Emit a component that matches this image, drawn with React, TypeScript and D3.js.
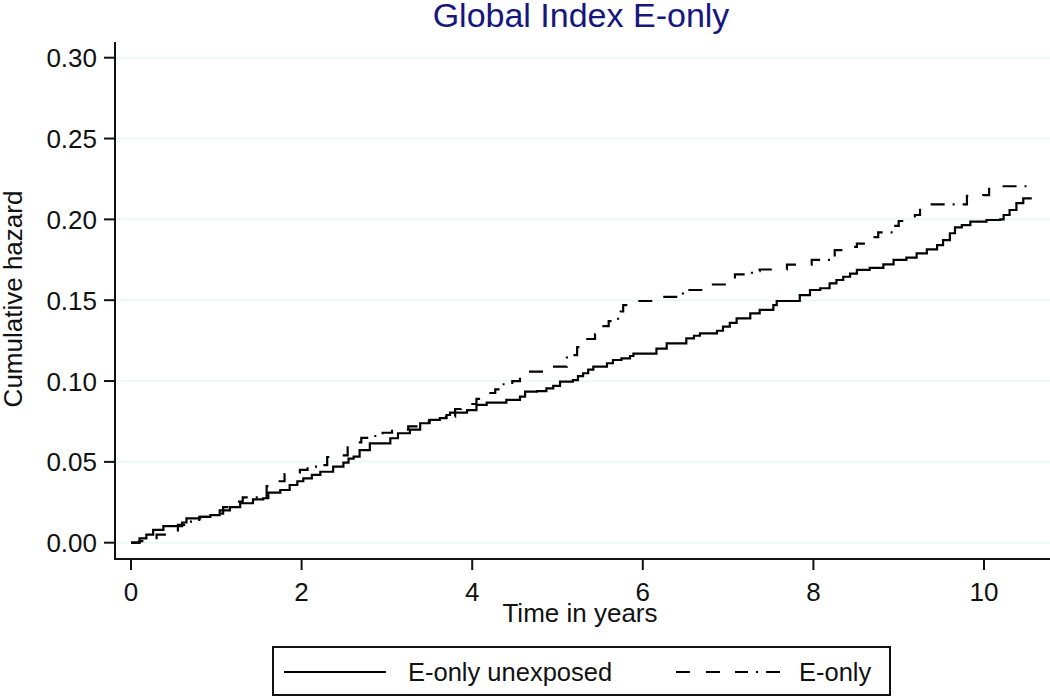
import React from "react";
import * as d3 from "d3";

const yTicks = [0, 0.05, 0.1, 0.15, 0.2, 0.25, 0.3];
const xTicks = [0, 2, 4, 6, 8, 10];

// E-only unexposed (solid) — step function [time, cumulative hazard]
const unexposedTime = [0, 0.1, 0.18, 0.26, 0.38, 0.6, 0.65, 0.81, 0.93, 1.04, 1.16, 1.28, 1.43, 1.55, 1.61, 1.75, 1.86, 1.95, 2.02, 2.12, 2.22, 2.37, 2.49, 2.55, 2.61, 2.68, 2.8, 3.04, 3.13, 3.27, 3.39, 3.5, 3.62, 3.7, 3.74, 3.94, 4.05, 4.17, 4.4, 4.56, 4.62, 4.76, 4.87, 4.95, 5.03, 5.18, 5.24, 5.3, 5.36, 5.42, 5.58, 5.65, 5.75, 5.85, 5.89, 6.09, 6.16, 6.28, 6.4, 6.51, 6.6, 6.67, 6.87, 6.94, 7.02, 7.1, 7.26, 7.37, 7.53, 7.57, 7.73, 7.84, 7.96, 8.08, 8.19, 8.27, 8.35, 8.43, 8.51, 8.66, 8.82, 8.94, 9.09, 9.21, 9.33, 9.45, 9.52, 9.6, 9.66, 9.74, 9.84, 10.03, 10.19, 10.23, 10.3, 10.38, 10.46, 10.56];
const unexposedHazard = [0, 0.0027, 0.005, 0.0079, 0.0103, 0.0125, 0.015, 0.016, 0.017, 0.02, 0.022, 0.0244, 0.0268, 0.0275, 0.031, 0.0326, 0.0357, 0.038, 0.0398, 0.042, 0.0439, 0.047, 0.0495, 0.052, 0.0532, 0.0573, 0.0615, 0.0646, 0.0677, 0.07, 0.0739, 0.0759, 0.077, 0.079, 0.0804, 0.082, 0.0852, 0.0866, 0.0883, 0.0903, 0.0934, 0.0938, 0.0955, 0.097, 0.0996, 0.1006, 0.103, 0.1048, 0.107, 0.1089, 0.111, 0.113, 0.114, 0.1155, 0.117, 0.117, 0.12, 0.1233, 0.1233, 0.1264, 0.128, 0.1295, 0.1311, 0.1336, 0.136, 0.1388, 0.1419, 0.144, 0.147, 0.1495, 0.1495, 0.1532, 0.1563, 0.1574, 0.1604, 0.1625, 0.1645, 0.1665, 0.1687, 0.17, 0.1722, 0.1749, 0.1763, 0.179, 0.1815, 0.1841, 0.1872, 0.1914, 0.195, 0.1965, 0.1986, 0.1996, 0.2, 0.2027, 0.2058, 0.21, 0.213, 0.213];

// E-only (dash-dot)
const eonlyTime = [0, 0.1, 0.2, 0.3, 0.45, 0.55, 0.65, 0.8, 0.95, 1.08, 1.25, 1.31, 1.45, 1.59, 1.65, 1.8, 1.98, 2.07, 2.19, 2.3, 2.4, 2.54, 2.62, 2.7, 2.8, 2.95, 3.06, 3.25, 3.4, 3.5, 3.63, 3.8, 3.87, 4.05, 4.1, 4.27, 4.35, 4.47, 4.56, 4.88, 5.11, 5.23, 5.29, 5.44, 5.5, 5.6, 5.71, 5.74, 5.77, 5.93, 6.2, 6.47, 6.72, 6.79, 7.02, 7.08, 7.28, 7.37, 7.69, 7.98, 8.25, 8.41, 8.51, 8.7, 8.76, 8.94, 9.0, 9.19, 9.25, 9.3, 9.8, 9.99, 10.06, 10.56];
const eonlyHazard = [0, 0.001, 0.002, 0.005, 0.006, 0.011, 0.013, 0.016, 0.018, 0.022, 0.0254, 0.028, 0.028, 0.035, 0.038, 0.0425, 0.045, 0.047, 0.048, 0.053, 0.054, 0.059, 0.062, 0.0648, 0.066, 0.068, 0.07, 0.072, 0.075, 0.076, 0.078, 0.0827, 0.0858, 0.089, 0.0926, 0.0949, 0.098, 0.1, 0.1058, 0.1089, 0.116, 0.121, 0.126, 0.129, 0.134, 0.137, 0.14, 0.143, 0.147, 0.1495, 0.152, 0.1563, 0.158, 0.1597, 0.1625, 0.166, 0.168, 0.169, 0.172, 0.175, 0.181, 0.183, 0.185, 0.189, 0.192, 0.196, 0.199, 0.2027, 0.207, 0.2093, 0.2145, 0.215, 0.2205, 0.2205];

const seriesNames = ["E-only unexposed", "E-only"];

const FONT = "'Liberation Sans', Arial, sans-serif";
const DASH = "14,15,14,15,14,8,2,8";

export default function App() {
  const x = d3.scaleLinear().domain([0, 10]).range([131, 984]);
  const y = d3.scaleLinear().domain([0, 0.3]).range([542.7, 57.7]);
  const line = d3
    .line<[number, number]>()
    .x((d) => x(d[0]))
    .y((d) => y(d[1]))
    .curve(d3.curveStepAfter);
  const s1: [number, number][] = unexposedTime.map((t, i) => [t, unexposedHazard[i]]);
  const s2: [number, number][] = eonlyTime.map((t, i) => [t, eonlyHazard[i]]);
  const axisLeft = 115;
  const axisBottom = 559;
  const ink = "#111";

  return (
    <div style={{ position: "absolute", left: 0, top: 0 }}>
      <svg width={1050} height={696} style={{ display: "block", background: "#fff" }} fontFamily={FONT}>
        <rect x={0} y={0} width={1050} height={696} fill="#fff" />
        {/* title */}
        <text x={581} y={27} textAnchor="middle" fontSize={34} fill="#16167e">
          Global Index E-only
        </text>
        {/* gridlines */}
        {yTicks.map((t) => (
          <line key={"g" + t} x1={axisLeft + 1} x2={1050} y1={y(t)} y2={y(t)} stroke="#e8f6f4" strokeWidth={1.5} />
        ))}
        {/* y axis */}
        <line x1={axisLeft} x2={axisLeft} y1={42} y2={axisBottom + 1} stroke={ink} strokeWidth={2} />
        {yTicks.map((t) => (
          <g key={"y" + t}>
            <line x1={104} x2={axisLeft} y1={y(t)} y2={y(t)} stroke={ink} strokeWidth={2} />
            <text x={97} y={y(t) + 9.5} textAnchor="end" fontSize={26} fill={ink}>
              {d3.format(".2f")(t)}
            </text>
          </g>
        ))}
        <text
          transform={`translate(22,299) rotate(-90)`}
          textAnchor="middle"
          fontSize={26}
          fill={ink}
        >
          Cumulative hazard
        </text>
        {/* x axis */}
        <line x1={axisLeft - 1} x2={1050} y1={axisBottom} y2={axisBottom} stroke={ink} strokeWidth={2} />
        {xTicks.map((t) => (
          <g key={"x" + t}>
            <line x1={x(t)} x2={x(t)} y1={axisBottom} y2={570} stroke={ink} strokeWidth={2} />
            <text x={x(t)} y={601} textAnchor="middle" fontSize={26} fill={ink}>
              {t}
            </text>
          </g>
        ))}
        <text x={580} y={622} textAnchor="middle" fontSize={26} fill={ink}>
          Time in years
        </text>
        {/* curves */}
        <path d={line(s1) || ""} fill="none" stroke="#000" strokeWidth={2.2} />
        <path d={line(s2) || ""} fill="none" stroke="#000" strokeWidth={2.2} strokeDasharray={DASH} />
        {/* legend */}
        <rect x={273} y={647} width={617} height={48} fill="#fff" stroke={ink} strokeWidth={2} />
        <line x1={284} x2={386} y1={672} y2={672} stroke="#000" strokeWidth={2} />
        <text x={408} y={681} fontSize={25.5} fill={ink}>
          {seriesNames[0]}
        </text>
        <line x1={676} x2={780} y1={672} y2={672} stroke="#000" strokeWidth={2} strokeDasharray="14,16,14,15,13,8,2,8,14" />
        <text x={799} y={681} fontSize={25.5} fill={ink}>
          {seriesNames[1]}
        </text>
      </svg>
    </div>
  );
}
